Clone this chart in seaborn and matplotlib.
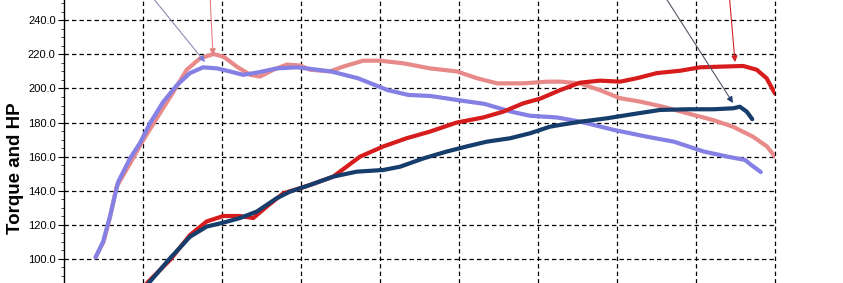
import matplotlib
matplotlib.use("Agg")
import matplotlib.pyplot as plt
from matplotlib.ticker import MultipleLocator, AutoMinorLocator, FormatStrFormatter
import seaborn as sns
import pandas as pd

# ---- data ----
torque_a_rpm = [1700, 1750, 1790, 1833, 1918, 2002, 2087, 2192, 2277, 2361, 2446, 2509, 2594,
                2679, 2741, 2826, 2910, 2994, 3057, 3184, 3266, 3393, 3500, 3645, 3816, 3987,
                4114, 4241, 4405, 4557, 4640, 4766, 4892, 5019, 5146, 5291, 5443, 5608, 5734,
                5861, 5949, 6000]
torque_a = [101, 110, 124, 142.4, 156, 169.8, 182.5, 198, 211, 217.7, 220.2, 218.7, 212.8,
            208, 207, 211, 214, 213.5, 211, 210, 212.8, 216.3, 216.3, 214.8, 211.8, 210,
            206, 203, 203, 204, 204, 203, 199, 194.3, 192.3, 189.3, 185.5, 181.5, 177.6,
            171.7, 166, 160]

torque_b_rpm = [1700, 1747, 1791, 1842, 1918, 1981, 2044, 2127, 2215, 2297, 2380, 2468, 2551,
                2633, 2721, 2848, 2975, 3060, 3190, 3360, 3550, 3680, 3820, 3990, 4160, 4330,
                4450, 4620, 4770, 4980, 5190, 5360, 5550, 5700, 5810, 5850, 5910]
torque_b = [101, 110, 125, 145, 159, 168, 179.6, 192, 202, 209, 212.4, 211.8, 210,
            208, 209.3, 211.8, 212.4, 211.5, 210, 206, 199, 196.2, 195.6, 193.2, 191, 186.4,
            184, 183, 180.5, 175.7, 171.7, 168.8, 163, 160, 158.1, 155.1, 151]

hp_a_rpm = [1960, 2034, 2171, 2297, 2403, 2508, 2614, 2698, 2783, 2888, 2994, 3057, 3204,
            3373, 3521, 3668, 3816, 3985, 4153, 4280, 4407, 4513, 4639, 4766, 4892, 5019,
            5125, 5251, 5399, 5525, 5652, 5799, 5884, 5947, 6000]
hp_a = [79, 86.7, 99.4, 114, 122, 125.2, 125.2, 124, 130.7, 138.5, 141.5, 143.4, 148.3,
        160, 166, 170.8, 174.7, 180, 183, 186.4, 191.3, 194, 199, 203.4, 204.6, 204,
        206, 209, 210.4, 212.4, 212.8, 213.2, 211, 206, 197]

hp_b_rpm = [1970, 2044, 2171, 2297, 2403, 2508, 2614, 2720, 2846, 2930, 3057, 3204, 3352,
            3521, 3627, 3775, 3922, 4049, 4176, 4323, 4449, 4576, 4639, 4766, 4935, 5104,
            5272, 5441, 5610, 5737, 5778, 5821, 5856]
hp_b = [79, 86.7, 100.4, 113, 119, 121.3, 124, 127.8, 135.6, 139.5, 143.4, 148.3, 151.2,
        152.2, 154.1, 159, 163, 166, 168.8, 170.8, 173.7, 177.6, 178.6, 180.5, 182.5, 185,
        187.4, 187.8, 187.8, 188.4, 189.3, 186.4, 182]

y_ticks = [100, 120, 140, 160, 180, 200, 220, 240]
x_grid = [2000, 2500, 3000, 3500, 4000, 4500, 5000, 5500, 6000]

# annotation arrows: (tail rpm, tail value) -> (head rpm, head value)
arrows = [
    ((1950, 266), (2392, 215.5), "#8c8cb4", "#7f7fe0"),
    ((2418, 266), (2443, 219.6), "#e07f7f", "#e07f7f"),
    ((5220, 266), (5734, 191.5), "#555566", "#1d3d6e"),
    ((5700, 266), (5747, 215.5), "#d42020", "#d42020"),
]

sns.set_theme(style="white")
plt.rcParams["font.family"] = ["Liberation Sans", "DejaVu Sans"]

fig = plt.figure(figsize=(8.43, 2.83), dpi=100)
ax = fig.add_axes([64 / 843, 0, (775 - 64) / 843, 1])
ax.set_xlim(1500, 6000)
ax.set_ylim(85.9, 251.9)

for xs, ys, col in [(torque_a_rpm, torque_a, "#e98a8a"),
                    (torque_b_rpm, torque_b, "#8580e4"),
                    (hp_a_rpm, hp_a, "#d61c1c"),
                    (hp_b_rpm, hp_b, "#163d6c")]:
    df = pd.DataFrame({"rpm": xs, "val": ys})
    sns.lineplot(data=df, x="rpm", y="val", ax=ax, color=col, lw=3.0,
                 estimator=None, sort=False, solid_capstyle="round")

for (tx, ty), (hx, hy), lc, hc in arrows:
    ax.annotate("", xy=(hx, hy), xytext=(tx, ty), annotation_clip=False,
                arrowprops=dict(arrowstyle="-", color=lc, lw=0.8, shrinkA=0, shrinkB=4))
    ax.annotate("", xy=(hx, hy), xytext=(hx - (hx - tx) * 0.04, hy - (hy - ty) * 0.04),
                annotation_clip=False,
                arrowprops=dict(arrowstyle="-|>", color=hc, lw=0.8, shrinkA=0, shrinkB=0,
                                mutation_scale=9))

for y in y_ticks:
    ax.axhline(y, color="black", lw=0.9, ls=(0, (3.5, 2.5)), zorder=0.5)
for x in x_grid:
    ax.axvline(x, color="black", lw=0.9, ls=(0, (3.5, 2.5)), zorder=0.5, clip_on=False)

ax.set_yticks(y_ticks)
ax.yaxis.set_major_formatter(FormatStrFormatter("%.1f"))
ax.yaxis.set_minor_locator(AutoMinorLocator(4))
ax.set_xticks([])
ax.tick_params(axis="y", which="major", direction="out", length=4, width=0.8,
               labelsize=8, colors="black", left=True, pad=2)
ax.tick_params(axis="y", which="minor", direction="out", length=2, width=0.6, left=True)
for s in ["top", "right", "bottom"]:
    ax.spines[s].set_visible(False)
ax.spines["left"].set_color("black")
ax.spines["left"].set_linewidth(1.0)
ax.set_xlabel("")
ax.set_ylabel("")

fig.text(15.5 / 843, 1 - 168 / 283, "Torque and HP", rotation=90, ha="center", va="center",
         fontsize=13.5, fontweight="bold", color="black")

fig.savefig("out.png", dpi=100, facecolor="white")
